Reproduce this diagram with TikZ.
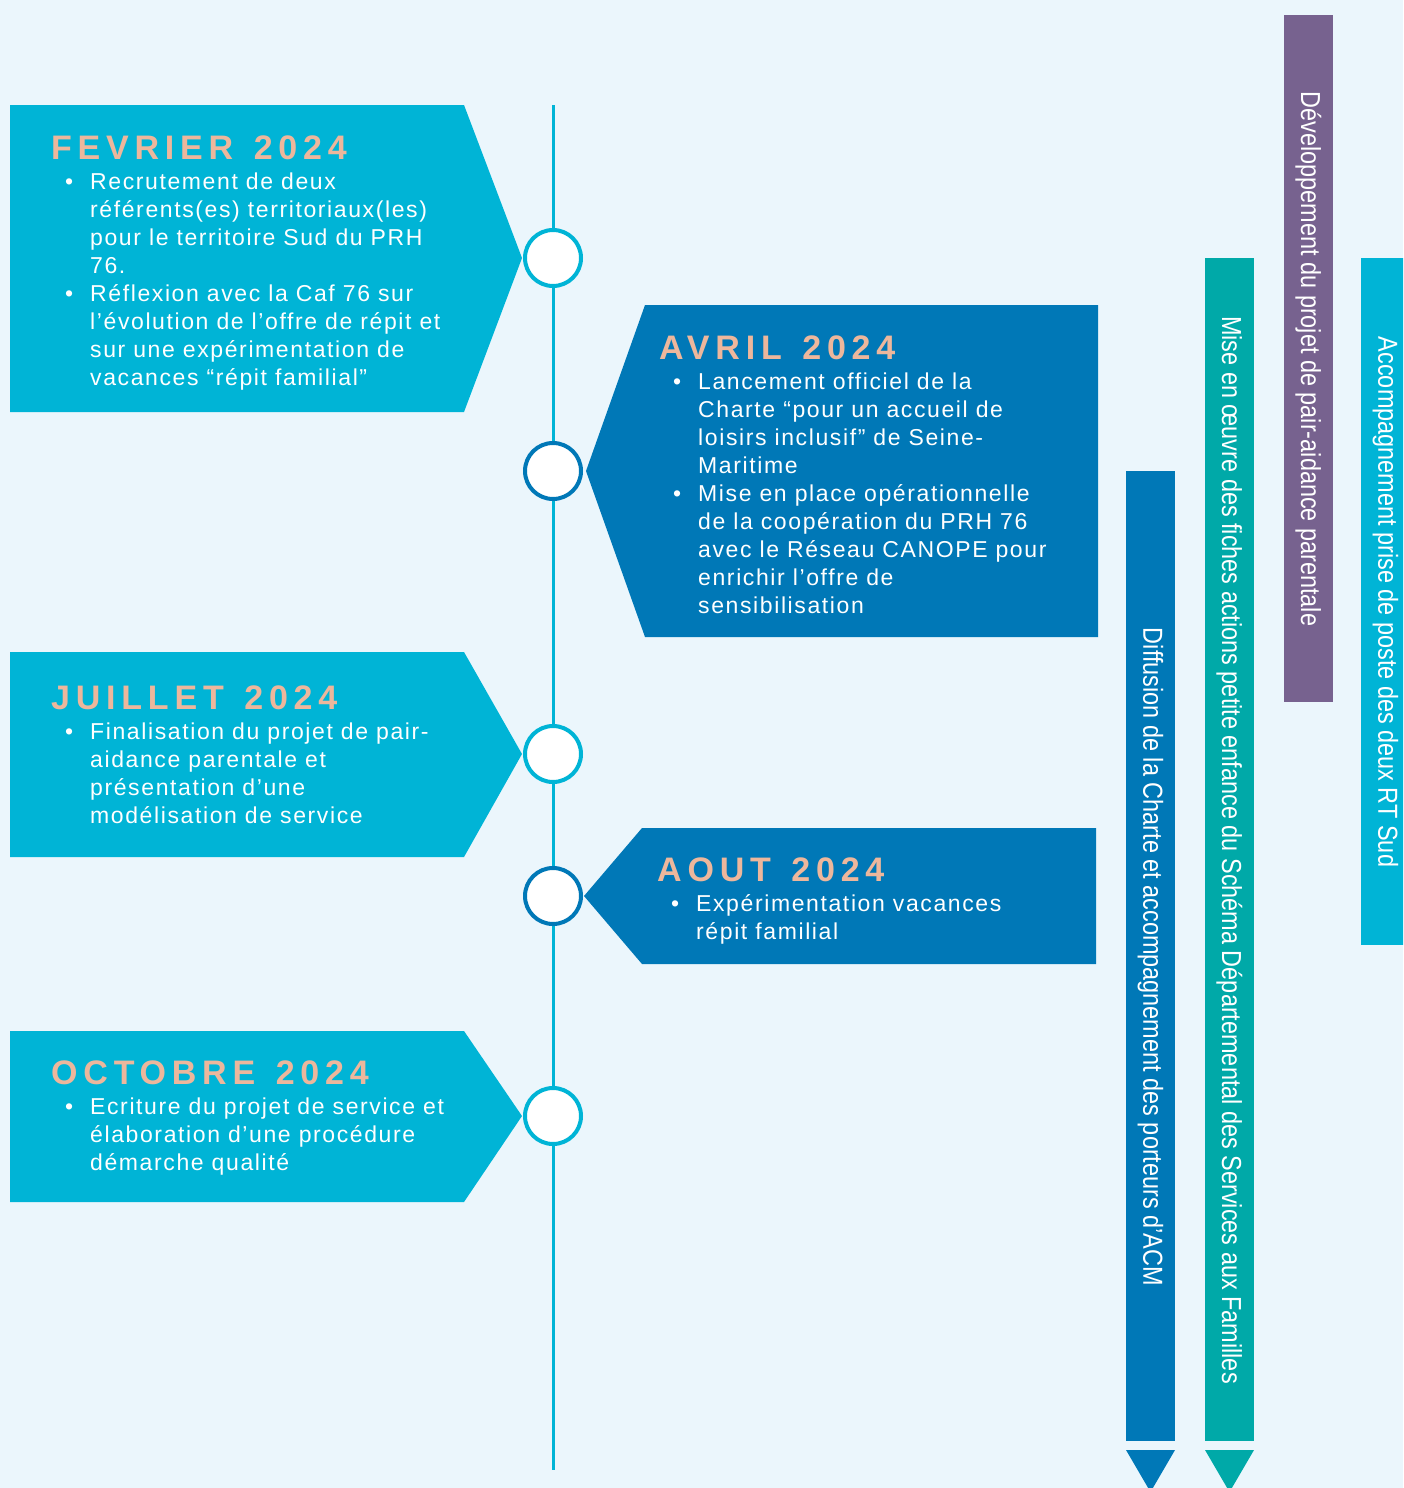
\documentclass[tikz,border=0pt]{standalone}
\usepackage{fontspec}
\setmainfont{Liberation Sans}
\newfontfamily\headfont[LetterSpace=17,WordSpace=1.35]{Liberation Sans}
\newfontfamily\bodyfont[LetterSpace=7]{Liberation Sans}
\definecolor{bgblue}{HTML}{EBF6FC}
\definecolor{cyanbox}{HTML}{00B4D6}
\definecolor{darkbox}{HTML}{0078B7}
\definecolor{tealbar}{HTML}{00A9A8}
\definecolor{purplebar}{HTML}{77628F}
\definecolor{peach}{HTML}{EDB79C}
\newcommand{\bul}{\makebox[25pt][l]{\textbullet}}
\newcommand{\ind}{\hspace*{25pt}}

\begin{document}
\begin{tikzpicture}[x=1pt, y=-1pt,
    head/.style={anchor=base west, inner sep=0, text=peach, font=\headfont\bfseries\fontsize{34}{40}\selectfont},
    % body nodes are placed at the baseline of their last line
    body/.style={anchor=base west, inner sep=0, align=left, text=white, font=\bodyfont\fontsize{23}{28}\selectfont},
    bartext/.style={rotate=-90, inner sep=0, text=white, font=\fontsize{27.5}{30}\selectfont},
    dot/.style={circle, draw, line width=4pt, fill=white, minimum size=56pt, inner sep=0},
    tline/.style={cyanbox, line width=3pt}
]
\useasboundingbox (0,0) rectangle (1403,1488);
\fill[bgblue] (0,0) rectangle (1403,1488);
\clip (0,0) rectangle (1403,1488);

% timeline
\coordinate (ltop) at (553,105);
\coordinate (lbot) at (553,1470);
\draw[tline] (ltop) -- (lbot);

% event boxes
\fill[cyanbox] (10,105) -- (464,105) -- (522,258) -- (464,412) -- (10,412) -- cycle;
\fill[darkbox] (586,471) -- (645,305) -- (1098,305) -- (1098,637) -- (645,637) -- cycle;
\fill[cyanbox] (10,652) -- (464,652) -- (522,754) -- (464,857) -- (10,857) -- cycle;
\fill[darkbox] (584,896) -- (642,828) -- (1096,828) -- (1096,964) -- (642,964) -- cycle;
\fill[cyanbox] (10,1031) -- (464,1031) -- (522,1116) -- (464,1202) -- (10,1202) -- cycle;

\node[dot, draw=cyanbox] (cfev) at (553,258) {};
\node[dot, draw=darkbox] (cavr) at (553,471) {};
\node[dot, draw=cyanbox] (cjui) at (553,754) {};
\node[dot, draw=darkbox] (caou) at (553,896) {};
\node[dot, draw=cyanbox] (coct) at (553,1116) {};

% texts
\node[head] (hfev) at (51,159) {FEVRIER 2024};
\node[body] (bfev) at (65,385) {\bul Recrutement de deux\\ \ind référents(es) territoriaux(les)\\ \ind pour le territoire Sud du PRH\\ \ind 76.\\ \bul Réflexion avec la Caf 76 sur\\ \ind l’évolution de l’offre de répit et\\ \ind sur une expérimentation de\\ \ind vacances “répit familial”};

\node[head] (havr) at (659,359) {AVRIL 2024};
\node[body] (bavr) at (673,613) {\bul Lancement officiel de la\\ \ind Charte “pour un accueil de\\ \ind loisirs inclusif” de Seine-\\ \ind Maritime\\ \bul Mise en place opérationnelle\\ \ind de la coopération du PRH 76\\ \ind avec le Réseau CANOPE pour\\ \ind enrichir l’offre de\\ \ind sensibilisation};

\node[head] (hjui) at (51,709) {JUILLET 2024};
\node[body] (bjui) at (65,823) {\bul Finalisation du projet de pair-\\ \ind aidance parentale et\\ \ind présentation d’une\\ \ind modélisation de service};

\node[head] (haou) at (657,881) {AOUT 2024};
\node[body] (baou) at (671,939) {\bul Expérimentation vacances\\ \ind répit familial};

\node[head] (hoct) at (51,1084) {OCTOBRE 2024};
\node[body] (boct) at (65,1170) {\bul Ecriture du projet de service et\\ \ind élaboration d’une procédure\\ \ind démarche qualité};

% vertical bars
\fill[darkbox] (1126,471) rectangle (1175,1441);
\fill[darkbox] (1126,1450) -- (1175,1450) -- (1150.5,1492) -- cycle;
\node[bartext] (vdif) at (1150.5,957) {\scalebox{0.853}[1]{Diffusion de la Charte et accompagnement des porteurs d’ACM}};

\fill[tealbar] (1205,258) rectangle (1254,1441);
\fill[tealbar] (1205,1450) -- (1254,1450) -- (1229.5,1492) -- cycle;
\node[bartext] (vmis) at (1229.5,850) {\scalebox{0.853}[1]{Mise en œuvre des fiches actions petite enfance du Schéma Départemental des Services aux Familles}};

\fill[purplebar] (1284,15) rectangle (1333,702);
\node[bartext] (vdev) at (1308.5,359) {\scalebox{0.853}[1]{Développement du projet de pair-aidance parentale}};

\fill[cyanbox] (1361,258) rectangle (1410,945);
\node[bartext] (vacc) at (1385.5,602) {\scalebox{0.853}[1]{Accompagnement prise de poste des deux RT Sud}};
\end{tikzpicture}
\end{document}
